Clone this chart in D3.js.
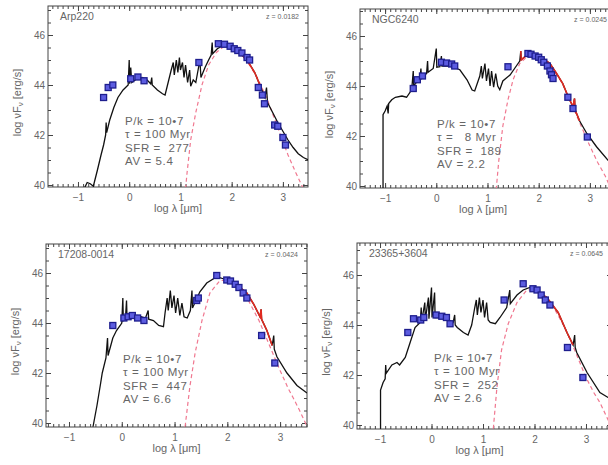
<!DOCTYPE html>
<html>
<head>
<meta charset="utf-8">
<script src="https://d3js.org/d3.v7.min.js"></script>
<style>
body { margin: 0; background: #fff; }
svg text { font-family: "Liberation Sans", Arial, sans-serif; fill: #666; }
.tick line { stroke: #444; }
</style>
</head>
<body>
<svg id="chart" width="608" height="465"></svg>
<script>
// ---- labels for the four galaxies ----
const galaxyNames = ["Arp220", "NGC6240", "17208-0014", "23365+3604"];
const redshifts = ["0.0182", "0.0245", "0.0424", "0.0645"];
const pkValues = ["10\u20227", "10\u20227", "10\u20227", "10\u20227"];
const tauValues = ["100", "  8", "100", "100"];
const sfrValues = ["277", "189", "447", "252"];
const avValues = ["5.4", "2.2", "6.6", "2.6"];
// range (log lambda) where the red far-IR fit is drawn
const redRanges = [[1.8, 2.6], [1.65, 2.9], [1.95, 2.85], [2.0, 2.75]];

const xTicks = [-1, 0, 1, 2, 3];
const yTicks = [40, 42, 44, 46];

// ---- Arp220 ----
const arp220Sed = [[-0.88,39.85],[-0.82,40.1],[-0.76,40.05],[-0.7,39.95],[-0.62,40.6],[-0.55,41.2],[-0.5,41.6],
  [-0.46,42.0],[-0.45,42.5],[-0.44,42.1],[-0.38,42.6],[-0.3,43.1],[-0.22,43.5],[-0.12,43.8],[-0.02,44.0],[0.0,45.0],
  [0.01,44.05],[0.03,44.7],[0.05,44.1],[0.15,44.25],[0.25,44.3],[0.35,44.2],[0.42,44.05],[0.44,44.3],[0.45,44.0],
  [0.55,43.8],[0.65,43.65],[0.7,43.6],[0.76,44.1],[0.82,44.6],[0.86,44.9],[0.88,44.4],[0.92,45.0],[0.95,44.5],
  [0.98,45.1],[1.0,44.6],[1.04,44.9],[1.07,44.3],[1.1,44.8],[1.14,44.1],[1.18,44.6],[1.2,43.95],[1.25,44.2],
  [1.3,44.1],[1.38,45.0],[1.4,44.3],[1.48,44.7],[1.55,45.0],[1.6,45.2],[1.62,45.7],[1.63,45.25],[1.72,45.45],
  [1.85,45.6],[1.95,45.55],[2.05,45.45],[2.15,45.3],[2.3,45.0],[2.45,44.5],[2.55,44.0],[2.65,43.5],[2.68,43.9],
  [2.7,43.3],[2.8,42.9],[2.9,42.5],[3.0,42.15],[3.1,41.8],[3.2,41.5],[3.3,41.25],[3.4,41.1],[3.5,41.0]];
const arp220Phot = [[-0.5,43.5],[-0.41,43.9],[-0.32,44.0],[0.03,44.25],[0.17,44.32],[0.29,44.17],[1.36,44.9],
  [1.74,45.65],[1.86,45.63],[1.97,45.55],[2.05,45.45],[2.12,45.38],[2.2,45.28],[2.3,45.1],[2.35,45.0],[2.52,43.9],
  [2.6,43.6],[2.64,43.25],[2.84,42.4],[2.9,42.35],[3.0,41.9],[3.05,41.6]];
const arp220Dust = [[1.1,39.85],[1.13,40.5],[1.2,41.8],[1.3,42.9],[1.42,44.0],[1.55,44.8],[1.7,45.3],[1.85,45.55],
  [1.95,45.55],[2.1,45.35],[2.3,44.95],[2.5,44.3],[2.7,43.4],[2.9,42.3],[3.1,41.2],[3.25,40.5],[3.4,39.85]];

// ---- NGC6240 ----
const ngc6240Sed = [[-1.04,39.85],[-1.04,42.85],[-1.0,43.0],[-0.96,43.2],[-0.94,42.9],[-0.93,43.3],[-0.87,43.45],
  [-0.8,43.55],[-0.67,43.6],[-0.58,43.55],[-0.48,43.85],[-0.45,44.6],[-0.44,43.95],[-0.41,44.1],[-0.32,44.25],
  [-0.3,44.7],[-0.29,44.3],[-0.19,44.5],[-0.17,45.0],[-0.16,44.55],[-0.06,44.7],[0.0,45.5],[0.01,44.75],[0.07,44.77],
  [0.1,45.2],[0.11,44.8],[0.27,44.8],[0.46,44.65],[0.6,44.25],[0.7,43.84],[0.75,43.8],[0.85,44.4],[0.88,44.8],
  [0.9,44.3],[0.95,44.9],[0.98,44.2],[1.02,44.7],[1.05,44.0],[1.08,44.6],[1.12,43.95],[1.16,44.5],[1.2,44.0],
  [1.24,43.85],[1.3,44.2],[1.44,44.44],[1.58,44.85],[1.63,45.0],[1.65,45.4],[1.66,45.05],[1.77,45.24],[1.88,45.3],
  [2.05,45.15],[2.22,44.9],[2.35,44.5],[2.47,44.1],[2.57,43.6],[2.67,43.17],[2.7,43.5],[2.71,43.05],[2.8,42.6],
  [2.94,42.1],[3.13,41.57],[3.35,41.04],[3.5,40.85]];
const ngc6240Phot = [[-0.45,43.9],[-0.37,44.25],[-0.27,44.4],[0.1,44.95],[0.2,44.92],[0.3,44.88],[0.36,44.8],
  [1.4,44.77],[1.79,45.3],[1.85,45.27],[1.93,45.2],[2.0,45.15],[2.05,45.05],[2.1,44.95],[2.17,44.8],[2.22,44.6],
  [2.25,44.45],[2.28,44.3],[2.57,43.55],[2.67,43.1],[2.95,41.96]];
const ngc6240Dust = [[1.17,39.85],[1.22,41.0],[1.3,42.4],[1.4,43.45],[1.5,44.25],[1.63,44.9],[1.8,45.22],[1.9,45.25],
  [2.05,45.1],[2.25,44.75],[2.45,44.15],[2.65,43.25],[2.85,42.3],[3.0,41.6],[3.15,40.95],[3.3,40.4],[3.42,39.85]];

// ---- IRAS 17208-0014 ----
const iras17208Sed = [[-0.545,39.85],[-0.47,40.7],[-0.4,41.6],[-0.37,42.0],[-0.3,42.6],[-0.27,43.4],[-0.26,42.7],
  [-0.17,43.4],[-0.1,43.7],[-0.03,43.9],[0.0,44.0],[0.02,45.0],[0.03,44.1],[0.07,44.2],[0.09,44.9],
  [0.1,44.2],[0.29,44.3],[0.45,44.2],[0.5,44.5],[0.51,44.15],[0.6,44.1],[0.7,43.9],[0.79,43.85],[0.82,44.4],
  [0.86,45.0],[0.88,44.5],[0.92,45.3],[0.95,44.6],[0.99,45.1],[1.02,44.4],[1.06,45.0],[1.1,44.3],[1.14,44.8],
  [1.18,44.25],[1.24,44.2],[1.3,44.5],[1.33,45.3],[1.34,44.6],[1.48,45.25],[1.61,45.6],[1.8,45.85],[1.95,45.75],
  [2.11,45.65],[2.25,45.4],[2.37,45.2],[2.5,44.75],[2.62,44.25],[2.64,44.55],[2.65,44.15],[2.75,43.7],[2.85,43.1],
  [2.88,43.5],[2.89,42.95],[2.94,42.65],[3.13,42.0],[3.32,41.5],[3.51,41.2]];
const iras17208Phot = [[-0.17,43.9],[0.04,44.2],[0.12,44.25],[0.2,44.3],[0.3,44.2],[0.42,44.1],[1.42,44.9],
  [1.45,45.0],[1.8,45.9],[1.99,45.72],[2.06,45.68],[2.15,45.55],[2.22,45.42],[2.3,45.2],[2.37,45.0],[2.65,43.5],
  [2.9,42.4]];
const iras17208Dust = [[1.2,39.85],[1.29,41.45],[1.39,42.8],[1.52,44.1],[1.67,45.2],[1.86,45.7],[2.0,45.7],
  [2.2,45.45],[2.4,44.9],[2.6,44.1],[2.8,43.1],[3.0,42.1],[3.15,41.4],[3.25,41.0],[3.37,40.5],[3.47,40.05],[3.5,39.9]];

// ---- IRAS 23365+3604 ----
const iras23365Sed = [[-0.99,39.85],[-0.99,41.4],[-0.94,41.7],[-0.9,41.85],[-0.89,42.4],[-0.88,42.07],[-0.77,42.4],
  [-0.67,42.5],[-0.62,42.4],[-0.51,42.7],[-0.42,43.27],[-0.32,43.9],[-0.22,44.1],[-0.2,44.7],[-0.19,44.15],
  [-0.13,44.9],[-0.12,44.2],[-0.06,45.1],[-0.05,44.25],[0.0,45.5],[0.01,44.3],[0.06,45.3],[0.07,44.3],[0.17,44.3],
  [0.3,44.25],[0.42,44.1],[0.45,44.4],[0.46,44.0],[0.5,43.9],[0.62,43.7],[0.71,43.6],[0.78,44.0],[0.84,44.7],
  [0.87,45.0],[0.89,44.4],[0.93,45.1],[0.96,44.5],[1.0,45.0],[1.03,44.3],[1.07,44.9],[1.1,44.2],[1.14,44.1],
  [1.24,44.05],[1.33,44.3],[1.46,44.7],[1.52,45.4],[1.53,44.85],[1.66,45.2],[1.78,45.4],[1.91,45.5],[2.05,45.35],
  [2.24,45.1],[2.46,44.5],[2.63,43.7],[2.75,43.2],[2.78,43.6],[2.79,43.1],[2.82,42.9],[3.02,42.1],[3.27,41.3],
  [3.43,41.1],[3.5,41.0]];
const iras23365Phot = [[-0.46,43.7],[-0.35,44.25],[-0.21,44.2],[-0.15,44.3],[0.09,44.4],[0.2,44.35],[0.29,44.3],
  [0.36,44.05],[1.41,45.0],[1.78,45.65],[1.97,45.45],[2.05,45.4],[2.13,45.2],[2.21,45.0],[2.3,44.8],[2.64,43.1],
  [2.94,41.9]];
const iras23365Dust = [[1.2,39.85],[1.27,41.5],[1.36,43.0],[1.49,44.05],[1.66,44.9],[1.85,45.4],[2.0,45.4],
  [2.2,45.1],[2.4,44.6],[2.6,43.85],[2.8,42.9],[3.0,41.9],[3.15,41.3],[3.27,40.9],[3.43,40.2],[3.5,39.9]];

const sedCurves = [arp220Sed, ngc6240Sed, iras17208Sed, iras23365Sed];
const photPoints = [arp220Phot, ngc6240Phot, iras17208Phot, iras23365Phot];
const dustCurves = [arp220Dust, ngc6240Dust, iras17208Dust, iras23365Dust];

// panel frames in pixels and their axis ranges
const frames = [
  {left: 48, right: 308, top: 6, bottom: 187, xd: [-1.585, 3.49], yd: [39.92, 47.16]},
  {left: 360, right: 616, top: 9, bottom: 188, xd: [-1.49, 3.51], yd: [39.92, 47.08]},
  {left: 46, right: 307, top: 244, bottom: 427, xd: [-1.436, 3.51], yd: [39.84, 47.16]},
  {left: 357, right: 612, top: 243, bottom: 429, xd: [-1.447, 3.505], yd: [39.84, 47.28]}
];

const svg = d3.select("#chart");

frames.forEach(function(f, i) {
  const x = d3.scaleLinear().domain(f.xd).range([f.left, f.right]);
  const y = d3.scaleLinear().domain(f.yd).range([f.bottom, f.top]);
  const line = d3.line().x(d => x(d[0])).y(d => y(d[1]));
  const g = svg.append("g");

  const clipId = "clip" + i;
  svg.append("clipPath").attr("id", clipId)
    .append("rect").attr("x", f.left).attr("y", f.top)
    .attr("width", f.right - f.left).attr("height", f.bottom - f.top);

  // minor + major ticks, all pointing inward
  const xMinor = d3.range(-15, 36).map(d => d / 10).filter(d => d >= f.xd[0] && d <= f.xd[1]);
  const yMinor = d3.range(80, 95).map(d => d / 2).filter(d => d >= f.yd[0] && d <= f.yd[1]);

  function addAxis(axis, tx, ty, labels) {
    const a = g.append("g").attr("transform", "translate(" + tx + "," + ty + ")").call(axis);
    a.select(".domain").remove();
    a.selectAll(".tick line").attr("stroke", "#444");
    if (!labels) a.selectAll("text").remove();
    return a;
  }
  addAxis(d3.axisBottom(x).tickValues(xMinor).tickSize(-3), 0, f.bottom, false);
  addAxis(d3.axisTop(x).tickValues(xMinor).tickSize(-3), 0, f.top, false);
  addAxis(d3.axisLeft(y).tickValues(yMinor).tickSize(-3), f.left, 0, false);
  addAxis(d3.axisRight(y).tickValues(yMinor).tickSize(-3), f.right, 0, false);

  const bx = addAxis(d3.axisBottom(x).tickValues(xTicks).tickSize(-5).tickPadding(7)
    .tickFormat(d => d < 0 ? "\u2212" + Math.abs(d) : d), 0, f.bottom, true);
  bx.selectAll("text").attr("font-size", 10).attr("fill", "#666");
  addAxis(d3.axisTop(x).tickValues(xTicks).tickSize(-5), 0, f.top, false);
  const ly = addAxis(d3.axisLeft(y).tickValues(yTicks).tickSize(-5).tickPadding(3), f.left, 0, true);
  ly.selectAll("text").attr("font-size", 10).attr("fill", "#666");
  addAxis(d3.axisRight(y).tickValues(yTicks).tickSize(-5), f.right, 0, false);

  g.append("rect").attr("x", f.left).attr("y", f.top)
    .attr("width", f.right - f.left).attr("height", f.bottom - f.top)
    .attr("fill", "none").attr("stroke", "#444").attr("stroke-width", 1);

  const plot = g.append("g").attr("clip-path", "url(#" + clipId + ")");

  // cold dust component
  plot.append("path").datum(dustCurves[i]).attr("d", line)
    .attr("fill", "none").attr("stroke", "#f07890").attr("stroke-width", 1.2)
    .attr("stroke-dasharray", "4,3");

  // full model SED
  plot.append("path").datum(sedCurves[i]).attr("d", line)
    .attr("fill", "none").attr("stroke", "#111").attr("stroke-width", 1.3);

  // far-IR fit
  const rr = redRanges[i];
  plot.append("path").datum(sedCurves[i].filter(d => d[0] >= rr[0] && d[0] <= rr[1])).attr("d", line)
    .attr("fill", "none").attr("stroke", "#e02a20").attr("stroke-width", 1.6);

  // photometry
  plot.selectAll("rect.phot").data(photPoints[i]).enter().append("rect")
    .attr("class", "phot")
    .attr("x", d => x(d[0]) - 3).attr("y", d => y(d[1]) - 3)
    .attr("width", 6).attr("height", 6)
    .attr("fill", "#5c5ce0").attr("stroke", "#1e1e8e").attr("stroke-width", 1.3);

  // labels
  g.append("text").attr("x", f.left + 12).attr("y", f.top + 14)
    .attr("font-size", 10.5).attr("fill", "#777").text(galaxyNames[i]);
  g.append("text").attr("x", f.right - 9).attr("y", f.top + 13)
    .attr("font-size", 7).attr("text-anchor", "end").text("z = " + redshifts[i]);

  const notes = ["P/k = " + pkValues[i], "\u03c4 = " + tauValues[i] + " Myr",
                 "SFR =  " + sfrValues[i], "AV = " + avValues[i]];
  g.selectAll("text.note").data(notes).enter().append("text")
    .attr("class", "note")
    .attr("x", f.left + 77).attr("y", (d, k) => f.top + 119 + k * 13.3)
    .attr("font-size", 11.5).attr("letter-spacing", 0.6)
    .style("white-space", "pre").text(d => d);

  const xl = g.append("text").attr("x", (f.left + f.right) / 2 - (i % 2 ? 5 : 0)).attr("y", f.bottom + 25)
    .attr("font-size", 11).attr("text-anchor", "middle");
  xl.append("tspan").text("log \u03bb [\u03bcm]");

  const cy = (f.top + f.bottom) / 2 + 6;
  const yl = g.append("text").attr("transform", "translate(" + (f.left - 27) + "," + cy + ") rotate(-90)")
    .attr("font-size", 11).attr("text-anchor", "middle");
  yl.append("tspan").text("log \u03bdF");
  yl.append("tspan").attr("font-size", 8).attr("dy", 2).text("\u03bd");
  yl.append("tspan").attr("dy", -2).text(" [erg/s]");
});
</script>
</body>
</html>
